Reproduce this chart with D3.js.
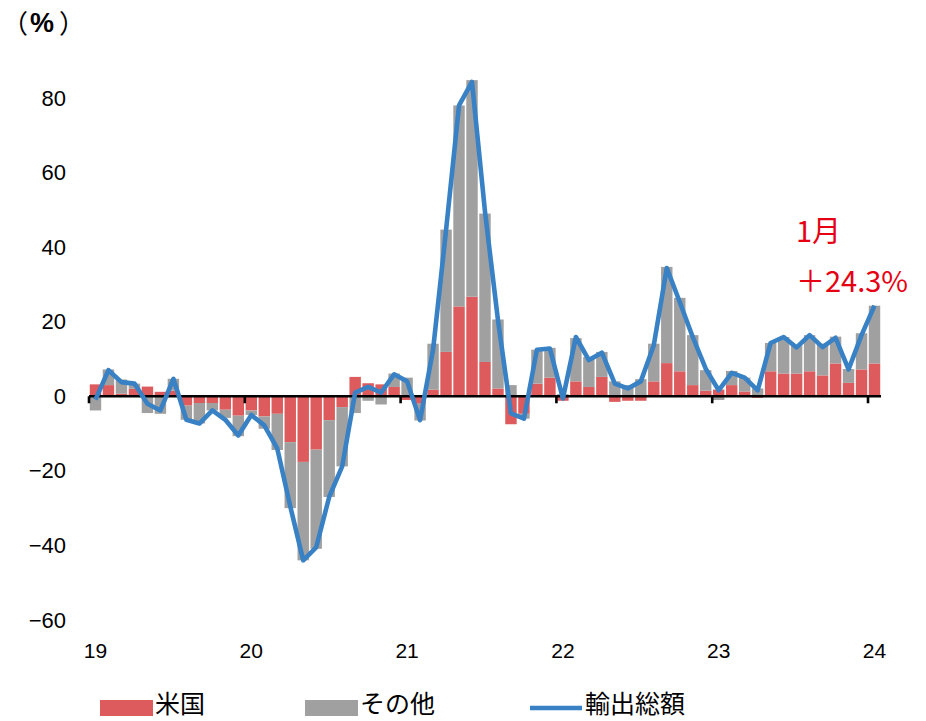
<!DOCTYPE html>
<html>
<head>
<meta charset="utf-8">
<script src="https://cdn.jsdelivr.net/npm/d3@7"></script>
<style>
  html, body { margin: 0; padding: 0; background: #fff; }
  svg { display: block; }
</style>
</head>
<body>
<svg id="chart" width="926" height="721"></svg>
<script>
// Monthly categories, Jan 2019 – Jan 2024
const months = [
  "2019-01","2019-02","2019-03","2019-04","2019-05","2019-06","2019-07","2019-08","2019-09","2019-10","2019-11","2019-12",
  "2020-01","2020-02","2020-03","2020-04","2020-05","2020-06","2020-07","2020-08","2020-09","2020-10","2020-11","2020-12",
  "2021-01","2021-02","2021-03","2021-04","2021-05","2021-06","2021-07","2021-08","2021-09","2021-10","2021-11","2021-12",
  "2022-01","2022-02","2022-03","2022-04","2022-05","2022-06","2022-07","2022-08","2022-09","2022-10","2022-11","2022-12",
  "2023-01","2023-02","2023-03","2023-04","2023-05","2023-06","2023-07","2023-08","2023-09","2023-10","2023-11","2023-12",
  "2024-01"
];

// Contribution to year-on-year change (percentage points): United States
const usContrib = [
   3.2,  3.0,  0.7,  2.0,  2.6,  1.2,  1.5, -2.5, -1.8, -1.8, -3.6, -5.2,
  -3.8, -5.4, -4.7,-12.3,-17.6,-14.3, -6.4, -2.9,  5.2,  3.5,  3.2,  2.5,
  -1.0, -2.0,  1.8, 11.9, 24.1, 26.7,  9.2,  2.1, -7.5, -4.7,  3.4,  5.0,
  -1.2,  4.0,  2.5,  5.2, -1.5, -1.2, -1.2,  4.0,  8.9,  6.7,  3.0,  1.5,
   1.8,  3.0,  1.3, -0.4,  6.7,  6.1,  6.1,  6.7,  5.6,  8.8,  3.6,  7.2,
   8.8
];

// Contribution to year-on-year change (percentage points): all other destinations
const otherContrib = [
  -3.8,  4.2,  3.8,  1.4, -4.5, -4.7,  3.2, -3.8, -5.5, -2.0, -2.2, -5.5,
  -1.2, -3.3, -9.7,-17.7,-26.4,-26.6,-20.6,-15.9, -4.5, -1.2, -2.2,  3.6,
   5.0, -4.5, 12.3, 32.8, 53.9, 58.1, 39.8, 18.5,  3.0, -1.3,  9.1,  8.0,
   0.6, 11.6,  8.0,  6.7,  4.0,  3.0,  4.6, 10.1, 25.8, 19.7, 13.4,  5.5,
  -1.0,  3.8,  3.7,  2.1,  7.6,  9.8,  7.6,  9.7,  8.5,  7.2,  3.7,  9.7,
  15.5
];

// Total exports, year-on-year change (%)
const totalExports = [
  -0.9,  7.0,  3.8,  3.4, -2.0, -3.8,  4.7, -6.3, -7.3, -3.8, -6.3,-10.5,
  -5.0, -7.8,-14.0,-29.5,-44.0,-40.5,-27.0,-18.8,  1.0,  2.5,  1.0,  5.9,
   4.0, -6.4, 12.5, 44.5, 78.0, 84.3, 49.5, 20.4, -4.6, -6.0, 12.5, 12.8,
  -0.6, 15.9,  9.7, 11.7,  3.4,  2.1,  4.0, 13.7, 34.4, 25.3, 15.9,  7.4,
   1.6,  6.3,  5.0,  1.6, 14.3, 15.9, 13.1, 16.4, 13.2, 15.7,  7.2, 16.4,
  24.3
];

const yTicks = [-60, -40, -20, 0, 20, 40, 60, 80];
const yearLabels = ["19", "20", "21", "22", "23", "24"];
const yearStartMonths = ["2019-01", "2020-01", "2021-01", "2022-01", "2023-01", "2024-01"];

const seriesNames = { us: "米国", other: "その他", total: "輸出総額" };
const colors = { us: "#DE5B5D", other: "#A0A0A0", total: "#3781C4", note: "#E60012" };

const latestNote = ["1月", "＋24.3%"];

// ---------------------------------------------------------------
const svg = d3.select("#chart");
const numFont = "'Liberation Sans', Arial, sans-serif";
const jpFont = "'Noto Sans CJK JP', 'Noto Sans', sans-serif";

const x = d3.scaleBand()
  .domain(months)
  .range([89, 881])
  .paddingInner(0.12)
  .paddingOuter(0.06);

const y = d3.scaleLinear()
  .domain([-60, 80])
  .range([620, 98]);

const rows = months.map((m, i) => ({ month: m, us: usContrib[i], other: otherContrib[i] }));
const stacked = d3.stack()
  .keys(["us", "other"])
  .offset(d3.stackOffsetDiverging)(rows);

// Stacked contribution bars
svg.append("g")
  .selectAll("g")
  .data(stacked)
  .join("g")
  .attr("fill", d => colors[d.key])
  .selectAll("rect")
  .data(d => d)
  .join("rect")
  .attr("x", d => x(d.data.month))
  .attr("width", x.bandwidth())
  .attr("y", d => y(Math.max(d[0], d[1])))
  .attr("height", d => Math.abs(y(d[0]) - y(d[1])));

// Y axis labels (no axis line, no ticks)
const yAxis = svg.append("g")
  .attr("transform", "translate(66,0)")
  .call(d3.axisLeft(y).tickValues(yTicks).tickSize(0).tickPadding(0).tickFormat(d3.format("d")));
yAxis.select(".domain").remove();
yAxis.selectAll("text")
  .attr("font-family", numFont)
  .attr("font-size", 22)
  .attr("fill", "#000");

// Zero line with year-boundary tick marks
const half = x.step() * x.paddingInner() / 2;
svg.append("line")
  .attr("x1", x.range()[0]).attr("x2", x.range()[1])
  .attr("y1", y(0)).attr("y2", y(0))
  .attr("stroke", "#000").attr("stroke-width", 2.6);

svg.append("g")
  .selectAll("line")
  .data(yearStartMonths)
  .join("line")
  .attr("x1", d => x(d) - half).attr("x2", d => x(d) - half)
  .attr("y1", y(0)).attr("y2", y(0) + 7)
  .attr("stroke", "#000").attr("stroke-width", 2.6);

// Year labels under the January of each year
svg.append("g")
  .selectAll("text")
  .data(yearLabels)
  .join("text")
  .attr("x", (d, i) => x(yearStartMonths[i]) + x.bandwidth() / 2)
  .attr("y", 658)
  .attr("text-anchor", "middle")
  .attr("font-family", numFont)
  .attr("font-size", 21)
  .attr("fill", "#000")
  .text(d => d);

// Total exports line
const line = d3.line()
  .x((d, i) => x(months[i]) + x.bandwidth() / 2)
  .y(d => y(d));

svg.append("path")
  .datum(totalExports)
  .attr("d", line)
  .attr("fill", "none")
  .attr("stroke", colors.total)
  .attr("stroke-width", 4.6)
  .attr("stroke-linejoin", "round");

// Unit label "（%）"
const unit = svg.append("g").attr("fill", "#000");
unit.append("text").attr("x", 2).attr("y", 33)
  .attr("font-family", jpFont).attr("font-size", 26).text("（");
unit.append("text").attr("x", 30).attr("y", 32)
  .attr("font-family", numFont).attr("font-size", 27).attr("font-weight", "bold").text("%");
unit.append("text").attr("x", 59).attr("y", 33)
  .attr("font-family", jpFont).attr("font-size", 26).text("）");

// Latest-month note
svg.append("g")
  .selectAll("text")
  .data(latestNote)
  .join("text")
  .attr("x", 796)
  .attr("y", (d, i) => 242 + i * 50)
  .attr("font-family", jpFont)
  .attr("font-size", 29)
  .attr("fill", colors.note)
  .text(d => d);

// Legend
const legend = svg.append("g");
const legendItems = [
  { key: "us", type: "rect", x: 100 },
  { key: "other", type: "rect", x: 305 },
  { key: "total", type: "line", x: 530 }
];
legendItems.forEach(it => {
  if (it.type === "rect") {
    legend.append("rect")
      .attr("x", it.x).attr("y", 700)
      .attr("width", 53).attr("height", 16)
      .attr("fill", colors[it.key]);
  } else {
    legend.append("line")
      .attr("x1", it.x).attr("x2", it.x + 52)
      .attr("y1", 708).attr("y2", 708)
      .attr("stroke", colors[it.key]).attr("stroke-width", 4.6);
  }
  legend.append("text")
    .attr("x", it.x + 55)
    .attr("y", 713)
    .attr("font-family", jpFont)
    .attr("font-size", 25)
    .attr("fill", "#000")
    .text(seriesNames[it.key]);
});
</script>
</body>
</html>
